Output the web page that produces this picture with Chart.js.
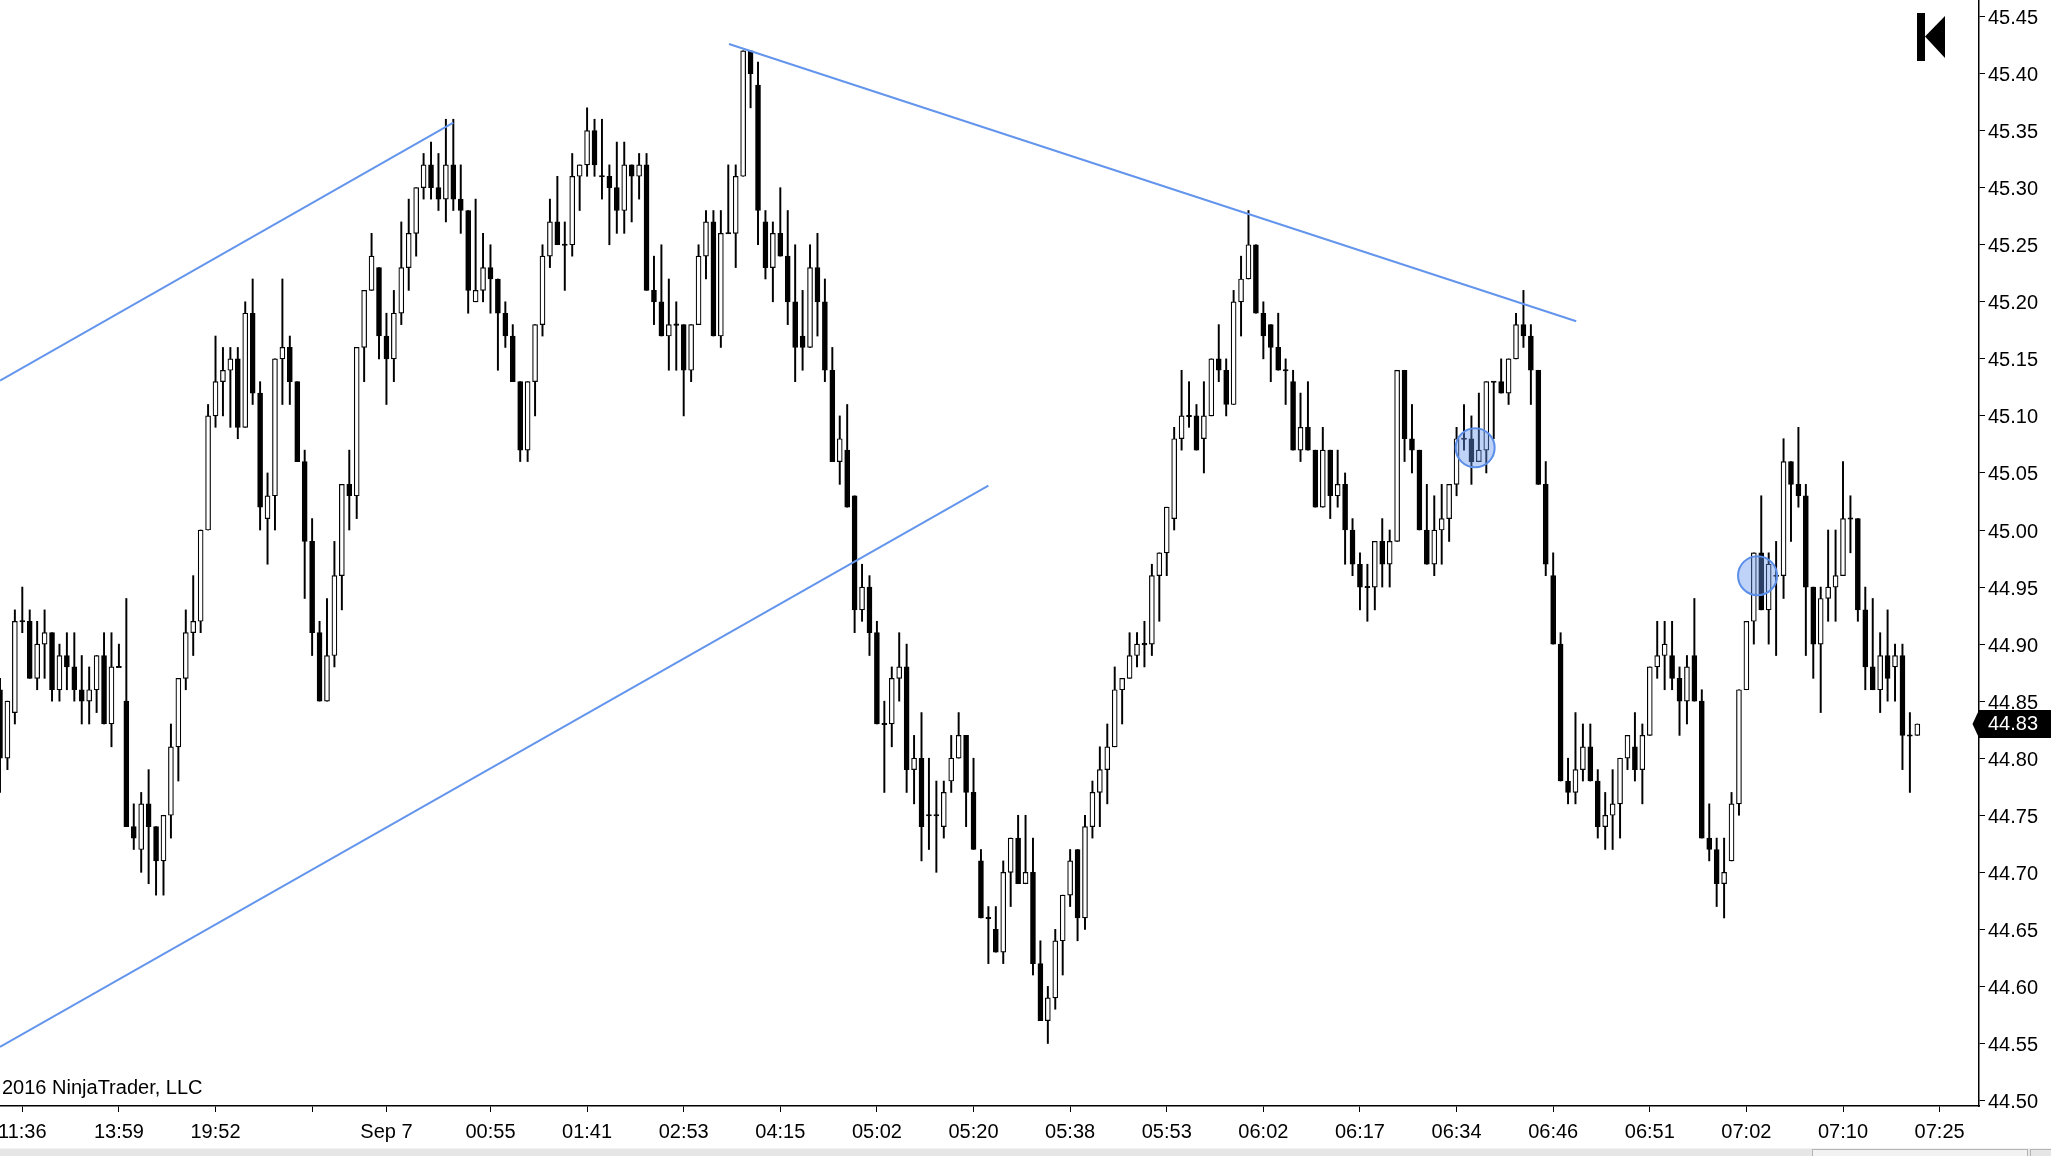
<!DOCTYPE html>
<html>
<head>
<meta charset="utf-8">
<script src="https://cdn.jsdelivr.net/npm/chart.js@4.4.1/dist/chart.umd.min.js"></script>
<style>
  html, body { margin: 0; padding: 0; background: #fff; }
  #wrap { width: 2051px; height: 1156px; position: relative; }
</style>
</head>
<body>
<div id="wrap"><canvas id="myChart" width="2051" height="1156"></canvas></div>
<script>
// candle data, one entry per bar (bar index = position on the x axis)
const opens = [
	44.86,44.80,44.84,44.92,44.92,44.87,44.90,44.91,44.86,44.89,44.88,44.86,44.85,44.86,44.89,44.83,44.88,44.85,44.74,44.72,
	44.76,44.74,44.71,44.75,44.81,44.87,44.91,44.92,45.00,45.10,45.13,45.14,45.15,45.09,45.19,45.12,45.01,45.03,45.15,45.16,
	45.13,45.06,44.99,44.91,44.85,44.89,44.96,45.04,45.03,45.16,45.21,45.23,45.17,45.15,45.19,45.23,45.26,45.30,45.32,45.30,
	45.29,45.32,45.29,45.28,45.20,45.21,45.23,45.22,45.19,45.17,45.13,45.07,45.13,45.18,45.24,45.27,45.25,45.25,45.31,45.32,
	45.35,45.31,45.31,45.30,45.28,45.32,45.31,45.32,45.21,45.20,45.17,45.18,45.18,45.14,45.18,45.24,45.27,45.17,45.26,45.26,
	45.31,45.42,45.39,45.27,45.23,45.26,45.24,45.20,45.17,45.16,45.23,45.20,45.14,45.06,45.07,45.03,44.93,44.95,44.91,44.83,
	44.83,44.87,44.88,44.79,44.80,44.75,44.75,44.74,44.78,44.80,44.82,44.77,44.71,44.66,44.65,44.63,44.70,44.73,44.69,44.70,
	44.62,44.57,44.59,44.64,44.68,44.72,44.66,44.74,44.77,44.79,44.81,44.86,44.87,44.89,44.90,44.90,44.96,44.98,45.01,45.08,
	45.10,45.10,45.08,45.10,45.15,45.14,45.11,45.20,45.22,45.25,45.19,45.18,45.16,45.14,45.13,45.07,45.09,45.07,45.02,45.07,
	45.03,45.04,45.00,44.97,44.95,44.95,44.99,44.97,44.99,45.14,45.08,45.07,45.00,44.97,45.00,45.01,45.04,45.08,45.08,45.06,
	45.07,45.13,45.13,45.12,45.15,45.18,45.17,45.14,45.04,44.96,44.90,44.78,44.77,44.79,44.81,44.78,44.74,44.75,44.76,44.80,
	44.81,44.79,44.82,44.88,44.89,44.89,44.87,44.85,44.89,44.85,44.73,44.72,44.69,44.71,44.76,44.86,44.92,44.98,44.93,44.96,
	44.96,45.06,45.04,45.03,44.95,44.90,44.94,44.95,44.96,45.01,45.01,44.93,44.88,44.86,44.89,44.88,44.89,44.82,44.82
];
const highs = [
	44.87,44.85,44.93,44.95,44.93,44.92,44.93,44.91,44.90,44.91,44.91,44.89,44.88,44.89,44.91,44.91,44.90,44.94,44.76,44.77,
	44.79,44.74,44.75,44.83,44.87,44.93,44.96,45.00,45.11,45.17,45.16,45.16,45.16,45.20,45.22,45.13,45.05,45.15,45.22,45.17,
	45.13,45.07,45.01,44.92,44.94,44.99,45.04,45.07,45.16,45.21,45.26,45.23,45.19,45.21,45.27,45.29,45.30,45.33,45.34,45.33,
	45.36,45.36,45.32,45.28,45.29,45.26,45.25,45.22,45.20,45.18,45.13,45.13,45.18,45.25,45.29,45.31,45.27,45.33,45.32,45.37,
	45.36,45.36,45.32,45.34,45.34,45.32,45.33,45.33,45.24,45.25,45.22,45.20,45.18,45.18,45.25,45.28,45.28,45.28,45.32,45.32,
	45.42,45.42,45.41,45.28,45.27,45.30,45.28,45.25,45.21,45.25,45.26,45.22,45.16,45.10,45.11,45.03,44.97,44.96,44.92,44.85,
	44.88,44.91,44.90,44.82,44.84,44.80,44.78,44.78,44.82,44.84,44.82,44.80,44.72,44.67,44.67,44.71,44.73,44.75,44.75,44.73,
	44.64,44.60,44.65,44.68,44.72,44.72,44.75,44.78,44.81,44.83,44.88,44.87,44.91,44.91,44.92,44.97,44.98,45.02,45.09,45.14,
	45.13,45.11,45.13,45.15,45.18,45.15,45.21,45.24,45.28,45.25,45.20,45.18,45.19,45.15,45.14,45.12,45.13,45.07,45.09,45.07,
	45.07,45.05,45.01,44.98,44.97,44.99,45.01,45.00,45.14,45.14,45.11,45.07,45.04,45.03,45.04,45.04,45.09,45.11,45.10,45.12,
	45.13,45.13,45.15,45.15,45.19,45.21,45.18,45.14,45.06,44.98,44.91,44.80,44.84,44.83,44.83,44.79,44.77,44.79,44.80,44.82,
	44.84,44.83,44.88,44.92,44.92,44.92,44.88,44.89,44.94,44.86,44.76,44.73,44.73,44.77,44.86,44.92,44.98,45.03,44.98,44.99,
	45.08,45.06,45.09,45.04,44.95,44.95,45.00,45.00,45.06,45.03,45.01,44.95,44.94,44.91,44.93,44.90,44.90,44.84,44.83
];
const lows = [
	44.77,44.79,44.83,44.91,44.87,44.86,44.87,44.85,44.85,44.86,44.85,44.83,44.83,44.84,44.83,44.81,44.88,44.74,44.72,44.70,
	44.69,44.68,44.68,44.73,44.78,44.86,44.89,44.91,45.00,45.09,45.10,45.09,45.08,45.09,45.11,45.00,44.97,45.00,45.11,45.11,
	45.06,44.94,44.89,44.85,44.85,44.88,44.93,45.00,45.01,45.13,45.21,45.15,45.11,45.13,45.18,45.21,45.24,45.29,45.29,45.28,
	45.27,45.28,45.26,45.19,45.20,45.20,45.19,45.14,45.16,45.13,45.06,45.06,45.10,45.17,45.23,45.25,45.21,45.24,45.28,45.31,
	45.31,45.29,45.25,45.26,45.26,45.27,45.29,45.21,45.18,45.17,45.14,45.14,45.10,45.13,45.18,45.22,45.17,45.16,45.26,45.23,
	45.31,45.37,45.25,45.22,45.20,45.24,45.18,45.13,45.14,45.16,45.17,45.13,45.06,45.04,45.02,44.91,44.92,44.89,44.83,44.77,
	44.81,44.85,44.77,44.76,44.71,44.72,44.70,44.73,44.77,44.80,44.74,44.72,44.66,44.62,44.63,44.62,44.67,44.69,44.69,44.61,
	44.57,44.55,44.58,44.61,44.67,44.64,44.65,44.73,44.74,44.76,44.81,44.83,44.87,44.88,44.88,44.89,44.92,44.96,45.00,45.07,
	45.09,45.07,45.05,45.10,45.13,45.10,45.11,45.17,45.22,45.19,45.15,45.13,45.14,45.11,45.07,45.06,45.07,45.02,45.02,45.01,
	45.02,44.97,44.96,44.93,44.92,44.93,44.95,44.95,44.99,45.06,45.05,45.00,44.97,44.96,44.97,44.99,45.03,45.07,45.04,45.06,
	45.05,45.08,45.12,45.11,45.15,45.16,45.11,45.04,44.96,44.90,44.78,44.76,44.76,44.78,44.78,44.73,44.72,44.72,44.73,44.79,
	44.78,44.76,44.82,44.87,44.86,44.86,44.82,44.83,44.85,44.73,44.71,44.67,44.66,44.71,44.75,44.86,44.90,44.93,44.90,44.89,
	44.94,44.99,45.02,44.89,44.87,44.84,44.92,44.92,44.96,44.98,44.92,44.86,44.86,44.84,44.85,44.85,44.79,44.77,44.82
];
const closes = [
	44.80,44.85,44.92,44.92,44.87,44.90,44.91,44.86,44.89,44.88,44.86,44.85,44.86,44.89,44.83,44.88,44.88,44.74,44.73,44.76,
	44.74,44.71,44.75,44.81,44.87,44.91,44.92,45.00,45.10,45.13,45.14,45.15,45.09,45.19,45.12,45.02,45.03,45.15,45.16,45.13,
	45.06,44.99,44.91,44.85,44.89,44.96,45.04,45.03,45.16,45.21,45.24,45.17,45.15,45.19,45.23,45.26,45.30,45.32,45.30,45.29,
	45.32,45.29,45.28,45.21,45.21,45.23,45.22,45.19,45.17,45.13,45.07,45.13,45.18,45.24,45.27,45.25,45.25,45.31,45.32,45.35,
	45.32,45.31,45.30,45.28,45.32,45.31,45.32,45.21,45.20,45.17,45.18,45.18,45.14,45.18,45.24,45.27,45.17,45.26,45.26,45.31,
	45.42,45.40,45.28,45.23,45.26,45.24,45.20,45.16,45.16,45.23,45.20,45.14,45.06,45.08,45.02,44.93,44.95,44.91,44.83,44.83,
	44.87,44.88,44.79,44.80,44.74,44.75,44.75,44.77,44.80,44.82,44.77,44.72,44.66,44.66,44.63,44.70,44.73,44.69,44.70,44.62,
	44.57,44.59,44.64,44.68,44.71,44.66,44.74,44.77,44.79,44.81,44.86,44.87,44.89,44.90,44.90,44.96,44.98,45.02,45.08,45.10,
	45.10,45.07,45.10,45.15,45.14,45.11,45.20,45.22,45.25,45.19,45.17,45.16,45.14,45.14,45.07,45.09,45.07,45.02,45.07,45.03,
	45.04,45.00,44.97,44.95,44.95,44.99,44.97,44.99,45.14,45.08,45.07,45.00,44.97,45.00,45.01,45.04,45.08,45.08,45.06,45.07,
	45.13,45.13,45.12,45.15,45.18,45.17,45.14,45.04,44.97,44.90,44.78,44.77,44.79,44.81,44.78,44.74,44.75,44.76,44.80,44.82,
	44.79,44.82,44.88,44.89,44.90,44.87,44.85,44.88,44.85,44.73,44.72,44.69,44.70,44.76,44.86,44.92,44.98,44.93,44.97,44.96,
	45.06,45.04,45.03,44.95,44.90,44.94,44.95,44.96,45.01,45.01,44.93,44.88,44.86,44.89,44.87,44.89,44.82,44.82,44.83
];

// time labels under the x axis (bar index -> text)
const tickIndex = [3,16,29,42,52,66,79,92,105,118,131,144,157,170,183,196,209,222,235,248,261];
const tickText = ['11:36','13:59','19:52','','Sep 7','00:55','01:41','02:53','04:15','05:02','05:20','05:38',
	'05:53','06:02','06:17','06:34','06:46','06:51','07:02','07:10','07:25'];

// price ticks on the right axis
const priceTicks = [44.50,44.55,44.60,44.65,44.70,44.75,44.80,44.85,44.90,44.95,45.00,45.05,45.10,45.15,45.20,45.25,45.30,45.35,45.40,45.45];

// drawn trend lines [x index, price]
const upperChannel = [[0, 45.131], [61.0, 45.357]];
const lowerChannel = [[0, 44.547], [133.0, 45.039]];
const resistance = [[98.1, 45.426], [212.1, 45.183]];
// marked spots
const markers = [[198.5, 45.072], [236.5, 44.960]];

const lastPrice = 44.83;

const wickData = opens.map((o, i) => ({ x: i, y: [lows[i], highs[i]] }));
const bodyData = opens.map((o, i) => {
	const c = closes[i];
	if (o === c) return { x: i, y: [o - 0.0006, o + 0.0006] };
	return { x: i, y: [Math.min(o, c), Math.max(o, c)] };
});
const bodyFill = opens.map((o, i) => (closes[i] > opens[i] ? '#ffffff' : '#000000'));

const toPts = arr => arr.map(p => ({ x: p[0], y: p[1] }));
const lineBlue = '#6495ed';

const extras = {
	id: 'extras',
	afterDraw(chart) {
		const ctx = chart.ctx;
		const y = chart.scales.y;
		ctx.save();
		// copyright
		ctx.fillStyle = '#000';
		ctx.font = '20px "Liberation Sans", Arial, sans-serif';
		ctx.textBaseline = 'middle';
		ctx.textAlign = 'left';
		ctx.fillText('2016 NinjaTrader, LLC', 2, 1088);

		// last price tag
		const py = y.getPixelForValue(lastPrice);
		ctx.beginPath();
		ctx.moveTo(1972.5, py);
		ctx.lineTo(1979, py - 14);
		ctx.lineTo(2051, py - 14);
		ctx.lineTo(2051, py + 14);
		ctx.lineTo(1979, py + 14);
		ctx.closePath();
		ctx.fillStyle = '#000';
		ctx.fill();
		ctx.fillStyle = '#fff';
		ctx.fillText(lastPrice.toFixed(2), 1988, py + 1);

		// logo
		ctx.fillStyle = '#000';
		ctx.fillRect(1917, 13, 8, 48);
		ctx.beginPath();
		ctx.moveTo(1925, 36.5);
		ctx.lineTo(1945, 16);
		ctx.lineTo(1945, 58);
		ctx.closePath();
		ctx.fill();

		// scroll strip
		ctx.fillStyle = '#e6e6e6';
		ctx.fillRect(0, 1148.5, 2051, 8);
		ctx.fillStyle = '#f2f2f2';
		ctx.strokeStyle = '#b4b4b4';
		ctx.lineWidth = 1;
		ctx.fillRect(1812, 1149.5, 215, 7);
		ctx.strokeRect(1812.5, 1149.5, 215, 8);
		ctx.strokeRect(2030.5, 1149.5, 24, 8);
		ctx.restore();
	}
};

Chart.defaults.font.family = '"Liberation Sans", Arial, sans-serif';
Chart.defaults.font.size = 20;
Chart.defaults.color = '#000';

const config = {
	type: 'bar',
	data: {
		datasets: [
			{
				type: 'line',
				data: toPts(markers),
				showLine: false,
				pointRadius: 19.5,
				pointBackgroundColor: 'rgba(100,149,237,0.42)',
				pointBorderColor: '#5b8ee8',
				pointBorderWidth: 2,
				order: 0,
			},
			{ type: 'line', data: toPts(upperChannel), borderColor: lineBlue, borderWidth: 2, pointRadius: 0, order: 1 },
			{ type: 'line', data: toPts(lowerChannel), borderColor: lineBlue, borderWidth: 2, pointRadius: 0, order: 1 },
			{ type: 'line', data: toPts(resistance), borderColor: lineBlue, borderWidth: 2, pointRadius: 0, order: 1 },
			{
				data: bodyData,
				backgroundColor: bodyFill,
				borderColor: '#000',
				borderWidth: 1.2,
				borderSkipped: false,
				barThickness: 5,
				grouped: false,
				order: 2,
			},
			{
				data: wickData,
				backgroundColor: '#000',
				borderWidth: 0,
				barThickness: 1.3,
				grouped: false,
				order: 3,
			},
		],
	},
	options: {
		responsive: false,
		devicePixelRatio: 1,
		animation: false,
		events: [],
		layout: { padding: 0, autoPadding: false },
		plugins: { legend: { display: false }, tooltip: { enabled: false } },
		scales: {
			x: {
				type: 'linear',
				min: 0,
				max: 266.3,
				offset: false,
				grid: { offset: false, drawOnChartArea: false, tickLength: 6, color: '#000' },
				border: { display: true, color: '#000', width: 1.5 },
				ticks: {
					autoSkip: false,
					maxRotation: 0,
					padding: 8,
					callback: (v) => {
						const k = tickIndex.indexOf(v);
						return k >= 0 ? tickText[k] : '';
					},
				},
				afterBuildTicks: (s) => { s.ticks = tickIndex.map(v => ({ value: v })); },
				afterFit: (s) => { s.height = 50; s.paddingLeft = 0; s.paddingRight = 0; },
			},
			y: {
				position: 'right',
				min: 44.4952,
				max: 45.4645,
				grid: { drawOnChartArea: false, tickLength: 6, color: '#000' },
				border: { display: true, color: '#000', width: 1.5 },
				ticks: { padding: 3, labelOffset: 2, callback: (v) => Number(v).toFixed(2) },
				afterBuildTicks: (s) => { s.ticks = priceTicks.map(v => ({ value: v })); },
				afterFit: (s) => { s.width = 72; s.paddingTop = 0; s.paddingBottom = 0; },
			},
		},
	},
	plugins: [extras],
};

new Chart(document.getElementById('myChart'), config);
</script>
</body>
</html>
